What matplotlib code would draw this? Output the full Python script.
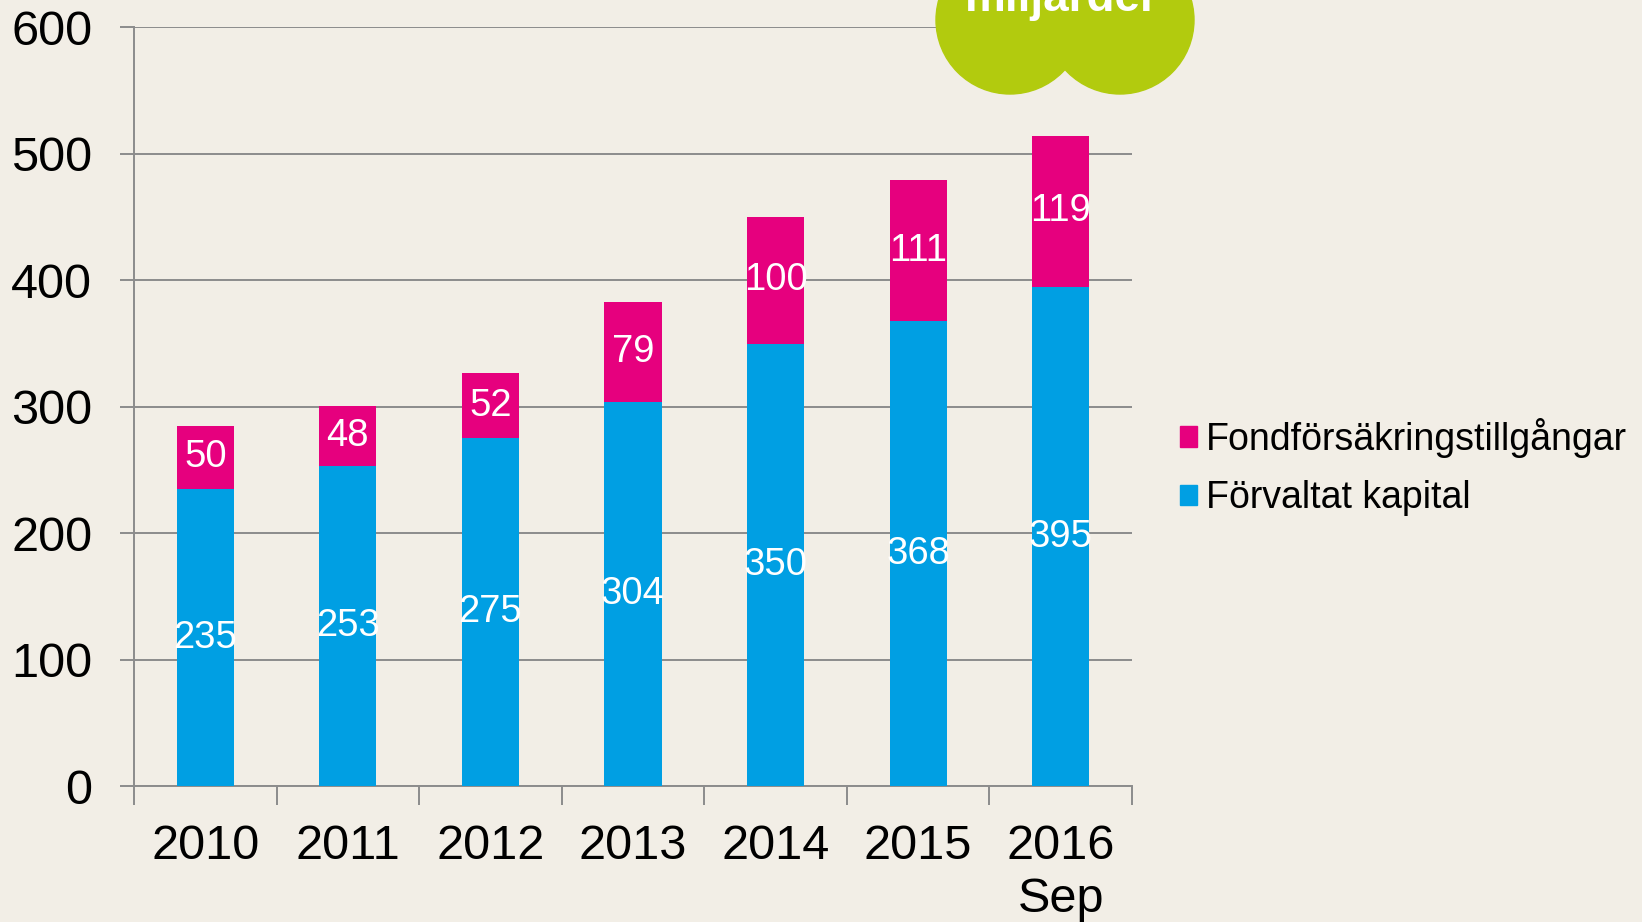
import matplotlib.pyplot as plt
from matplotlib.patches import Patch, Circle
import numpy as np

years = ["2010", "2011", "2012", "2013", "2014", "2015", "2016\nSep"]
forvaltat = [235, 253, 275, 304, 350, 368, 395]
fondforsakring = [50, 48, 52, 79, 100, 111, 119]

BG = "#F2EEE6"
BLUE = "#009FE3"
PINK = "#E6007E"
GREEN = "#B2CB0E"
GRID = "#8C8C8C"

plt.rcParams.update({
    "font.family": ["Liberation Sans", "DejaVu Sans"],
    "figure.facecolor": BG,
    "axes.facecolor": BG,
})

fig = plt.figure(figsize=(16.42, 9.22), dpi=100)
ax = fig.add_axes([0.0816, 0.147, 0.6078, 0.8235])

x = np.arange(len(years))
w = 0.40
ax.bar(x, forvaltat, w, color=BLUE, zorder=3)
ax.bar(x, fondforsakring, w, bottom=forvaltat, color=PINK, zorder=3)

for xi, b, p in zip(x, forvaltat, fondforsakring):
    ax.text(xi, b / 2, str(b), ha="center", va="center", color="white",
            fontsize=27.5, zorder=4)
    ax.text(xi, b + p / 2, str(p), ha="center", va="center", color="white",
            fontsize=27.5, zorder=4)

ax.set_xlim(-0.5, len(years) - 0.5)
ax.set_ylim(0, 600)
ax.set_yticks(range(0, 601, 100))
ax.yaxis.grid(True, color=GRID, linewidth=1.4, zorder=0)
ax.set_axisbelow(True)

# category labels between boundary ticks
ax.set_xticks(np.arange(-0.5, len(years), 1.0))
ax.set_xticklabels([])
ax.set_xticks(x, minor=True)
ax.set_xticklabels(years, minor=True, fontsize=35, linespacing=1.24)
ax.tick_params(axis="x", which="minor", length=0, pad=27)
ax.tick_params(axis="x", which="major", length=14, width=1.4, color=GRID, direction="out")
ax.tick_params(axis="y", length=10, width=1.4, color=GRID, labelsize=35, pad=20)

for s in ["top", "right"]:
    ax.spines[s].set_visible(False)
for s in ["left", "bottom"]:
    ax.spines[s].set_color(GRID)
    ax.spines[s].set_linewidth(1.4)

handles = [Patch(color=PINK, label="Fondförsäkringstillgångar"),
           Patch(color=BLUE, label="Förvaltat kapital")]
fig.legend(handles=handles, loc="upper left", bbox_to_anchor=(0.7095, 0.563),
           frameon=False, fontsize=27, handlelength=0.45, handleheight=0.45,
           handletextpad=0.25, labelspacing=0.6, borderaxespad=0)

# green badge at the top right
for cx in (10.10, 11.20):
    fig.patches.append(Circle((cx, 9.02), 0.74, transform=fig.dpi_scale_trans,
                              color=GREEN, zorder=5))
fig.text(10.62, 9.11, "miljarder", transform=fig.dpi_scale_trans, ha="center",
         va="baseline", color="white", fontsize=33, fontweight="bold", zorder=6)

fig.savefig("out.png", dpi=100, facecolor=BG)
